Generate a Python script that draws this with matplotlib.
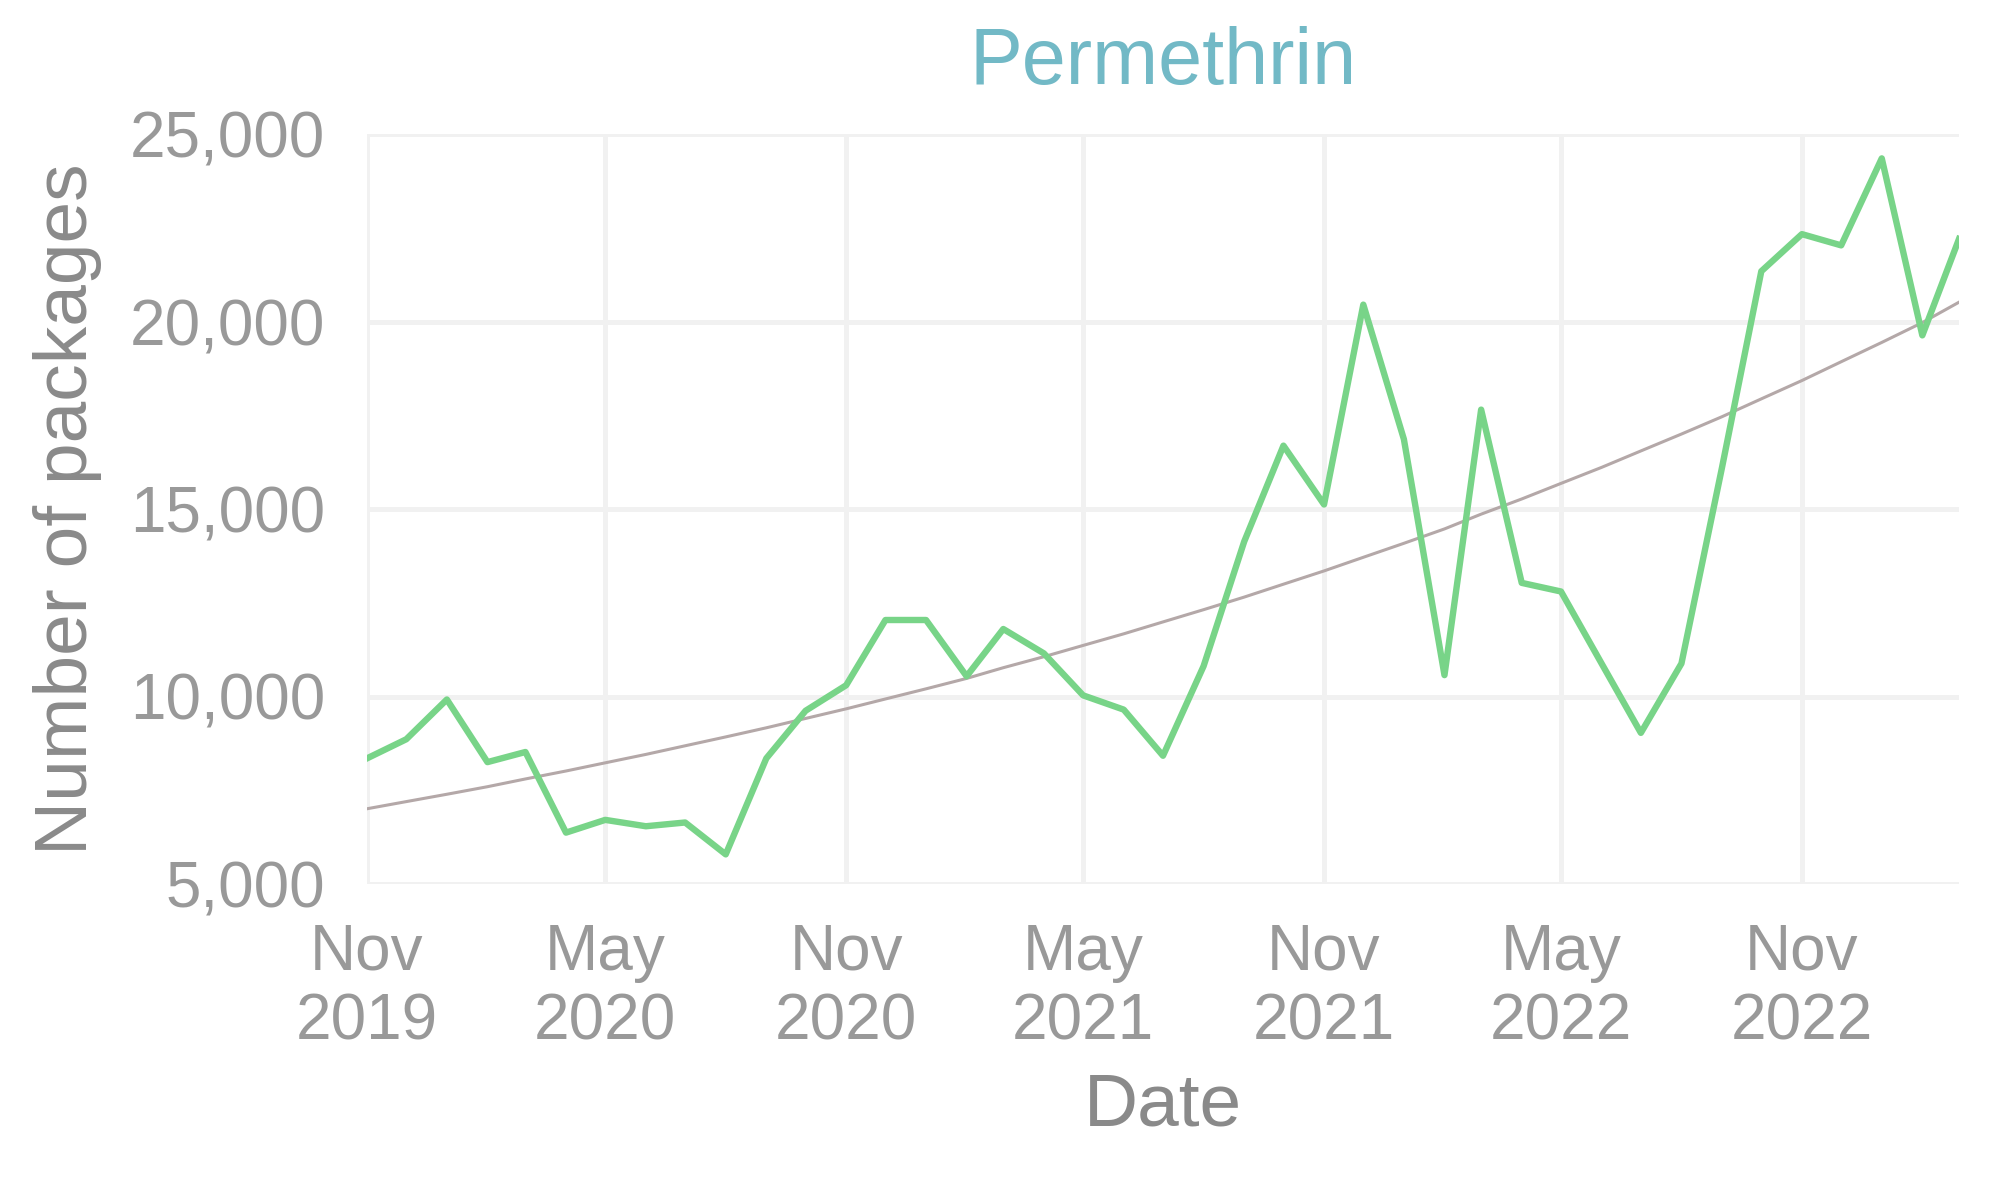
import numpy as np
import pandas as pd
import matplotlib
matplotlib.use("Agg")
import matplotlib.pyplot as plt
from matplotlib.ticker import FuncFormatter

# monthly packages dispensed, Nov 2019 - Mar 2023
months = pd.date_range("2019-11-01", "2023-03-01", freq="MS")
packages = [8350, 8860, 9920, 8250, 8520, 6370, 6710, 6540, 6640, 5790,
            8350, 9620, 10300, 12040, 12040, 10540, 11800, 11150, 10030, 9650,
            8420, 10810, 14130, 16690, 15120, 20450, 16860, 10570, 17650, 13030,
            12800, 10880, 9030, 10880, 16110, 21340, 22330, 22030, 24350, 19630,
            22200]
yticks = [5000, 10000, 15000, 20000, 25000]
xtick_dates = pd.to_datetime(["2019-11-01", "2020-05-01", "2020-11-01",
                              "2021-05-01", "2021-11-01", "2022-05-01", "2022-11-01"])

plt.rcParams['font.family'] = ['Liberation Sans', 'DejaVu Sans']

fig = plt.figure(figsize=(20.08, 11.89), dpi=100)
ax = fig.add_axes([367/2008, 1 - 884/1189, (1959-367)/2008, (884-134)/1189])

# exponential trend, log-linear fit (mildly weighted toward larger counts)
t = np.arange(len(packages))
y = np.array(packages, dtype=float)
b, a = np.polyfit(t, np.log(y), 1, w=y**0.25)
trend = np.exp(a + b*t)

ax.plot(months, trend, color='#b4a8a8', lw=2.2, zorder=2)
ax.plot(months, packages, color='#78d488', lw=4.6, zorder=3)

ax.set_xlim(months[0], months[-1])
ax.set_ylim(5000, 25000)
ax.set_yticks(yticks)
ax.yaxis.set_major_formatter(FuncFormatter(lambda v, p: f'{int(v):,}'))
ax.set_xticks(xtick_dates)
ax.set_xticklabels([d.strftime('%b\n%Y') for d in xtick_dates], linespacing=1.2)

for s in ax.spines.values():
    s.set_visible(False)
ax.grid(True, color='#f1f1f1', lw=3.6)
ax.set_axisbelow(True)
ax.tick_params(length=0, labelsize=46, colors='#999999')
ax.tick_params(axis='x', pad=28)
ax.tick_params(axis='y', pad=30)

ax.set_xlabel('Date', fontsize=54, color='#8a8a8a', labelpad=14)
ax.set_ylabel('Number of packages', fontsize=54, color='#8a8a8a', labelpad=20)
ax.set_title('Permethrin', fontsize=57, color='#72b9c6', pad=36)

fig.savefig('out.png', dpi=100)
